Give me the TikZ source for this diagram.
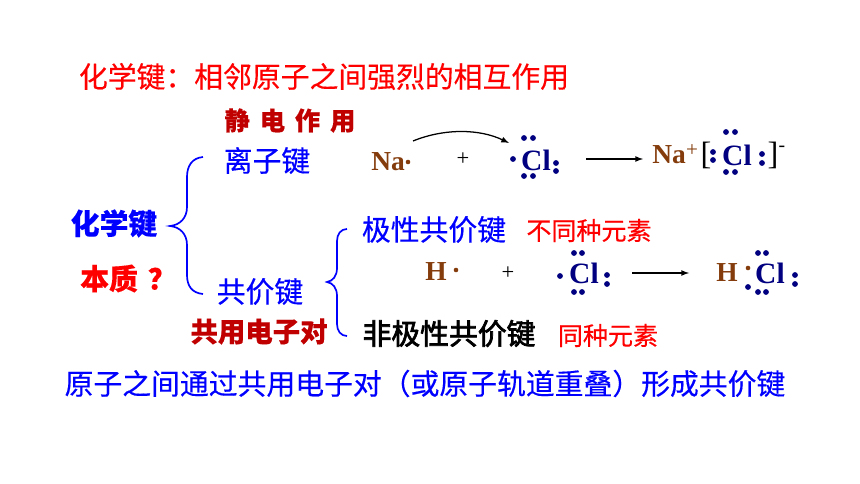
\documentclass[tikz,border=0pt]{standalone}
\usepackage{fontspec}
\setmainfont{Liberation Serif}
\newfontfamily\cjk[FakeBold=0.35]{Noto Sans CJK SC}
\newfontfamily\cjkm[FakeBold=2.5]{Noto Sans CJK SC}
\definecolor{darkred}{RGB}{192,0,0}
\definecolor{brownatom}{RGB}{132,60,12}
\definecolor{navyatom}{RGB}{0,0,128}
\begin{document}
\begin{tikzpicture}[x=0.025cm, y=-0.025cm,
		cnbig/.style={font=\cjk\fontsize{20.5}{24}\selectfont, inner sep=0pt},
		cnbold/.style={font=\cjk\bfseries\fontsize{20.5}{24}\selectfont, inner sep=0pt},
		cnnote/.style={font=\cjk\fontsize{17.8}{21}\selectfont, inner sep=0pt, red},
		nanode/.style={font=\bfseries\fontsize{19.5}{24}\selectfont, inner sep=0pt, brownatom},
		clnode/.style={font=\bfseries\fontsize{21}{24}\selectfont, inner sep=0pt, navyatom},
		plusnode/.style={font=\fontsize{16}{18}\selectfont, inner sep=0pt},
		bracket/.style={font=\fontsize{23}{26}\selectfont, inner sep=0pt},
		bondbrace/.style={blue, line width=1.2pt},
		react/.style={-latex, line width=0.9pt}]
	\useasboundingbox (0,0) rectangle (860,484);

	\node[cnbig, red] at (324, 76.5) (title) {化学键：相邻原子之间强烈的相互作用};
	\node[cnbold, darkred, font=\cjk\bfseries\fontsize{18}{20}\selectfont] at (290, 120.5) (force) {静\hspace{7pt}电\hspace{7pt}作\hspace{7pt}用};
	\node[cnbig, blue] at (267, 160.5) (ionic) {离子键};
	\node[cnbold, blue] at (114, 223.5) (bond) {化学键};
	\node[cnbold, red, anchor=west] at (80, 278.5) (essence) {本质\hspace{7pt}？};
	\node[cnbig, blue] at (260, 291.5) (covalent) {共价键};
	\node[cnbold, darkred, font=\cjk\bfseries\fontsize{19.5}{23}\selectfont] at (259, 331.5) (pair) {共用电子对};
	\node[cnbig, blue] at (434, 229.5) (polar) {极性共价键};
	\node[cnnote] at (589, 230.5) (diff) {不同种元素};
	\node[cnbold, font=\cjkm\fontsize{20.5}{24}\selectfont] at (449, 333.5) (nonpolar) {非极性共价键};
	\node[cnnote] at (608, 335.5) (same) {同种元素};
	\node[cnbig, blue] at (425, 383.5) (define) {原子之间通过共用电子对（或原子轨道重叠）形成共价键};

	% ionic row
	\node[nanode] at (388, 162) (na1) {Na};
	\node[plusnode] at (463, 159) (plus1) {+};
	\node[clnode] at (536, 160) (cl1) {Cl};
	\node[nanode] at (669, 155) (na2) {Na};
	\node[nanode, font=\fontsize{15}{16}\selectfont] at (692, 151) (nap) {+};
	\node[bracket] at (706, 155) (lb) {[};
	\node[clnode] at (737, 155) (cl2) {Cl};
	\node[bracket] at (773, 155) (rb) {]};
	\node[font=\fontsize{14}{15}\selectfont, inner sep=0pt] at (782, 149) (minus) {-};

	% covalent row
	\node[nanode] at (436, 272) (h1) {H};
	\node[plusnode] at (508, 273) (plus2) {+};
	\node[clnode] at (584, 273) (cl3) {Cl};
	\node[nanode] at (727, 273) (h2) {H};
	\node[clnode] at (770, 273) (cl4) {Cl};

	\coordinate (a1) at (413, 141);
	\coordinate (a2) at (509, 143);
	\coordinate (b1) at (586, 159);
	\coordinate (b2) at (643, 159);
	\coordinate (c1) at (632, 273);
	\coordinate (c2) at (689, 273);
	\draw[react] (a1) .. controls (445, 128) and (480, 129) .. (a2);
	\draw[react] (b1) -- (b2);
	\draw[react] (c1) -- (c2);

	% braces
	\draw[bondbrace] (203, 157) .. controls (192, 158) and (187, 166) .. (187, 177) -- (187, 207)
		.. controls (187, 218) and (180, 225) .. (170, 226)
		.. controls (180, 227) and (187, 234) .. (187, 245) -- (187, 275)
		.. controls (187, 286) and (192, 293) .. (203, 294);
	\draw[bondbrace] (347, 229) .. controls (341, 229) and (337, 234) .. (337, 241) -- (337, 268)
		.. controls (337, 276) and (333, 281) .. (327, 282)
		.. controls (333, 283) and (337, 288) .. (337, 296) -- (337, 324)
		.. controls (337, 331) and (341, 336) .. (347, 336);

	% electrons
	\foreach \ex/\ey in {524/138, 533/138, 513/159, 556/163, 556/171, 524/176, 533/176,
		713/152, 713/160, 726/132, 735/132, 726/172, 735/172, 762/154, 762/163,
		574/253, 582/253, 560/276, 607/275, 607/284, 574/292, 582/292,
		748/287, 758/253, 766/253, 758/292, 766/292, 795/275, 795/284}
		\fill[navyatom] (\ex, \ey) circle (2.9);
	\foreach \ex/\ey in {408/162, 456/270, 748/268}
		\fill[brownatom] (\ex, \ey) circle (2.3);
\end{tikzpicture}
\end{document}
